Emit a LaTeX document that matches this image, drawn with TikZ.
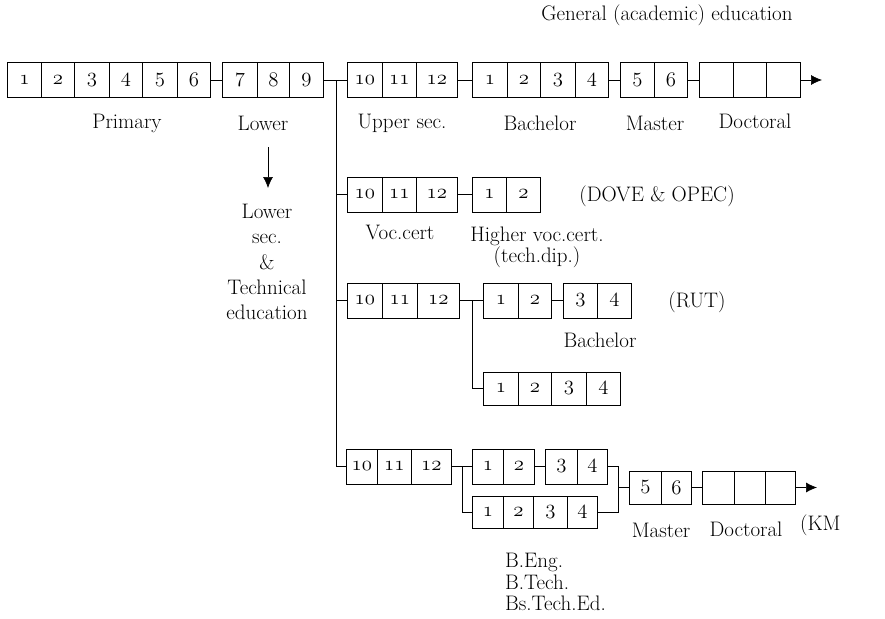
\documentclass[tikz,border=0pt]{standalone}
\usetikzlibrary{arrows.meta}
\tikzset{
  cell/.style={draw, line width=0.7pt, inner sep=0pt, font=\fontsize{22}{24}\selectfont},
  lbl/.style={font=\fontsize{21}{25}\selectfont, inner sep=0pt},
  conn/.style={line width=0.7pt},
  arr/.style={conn, -{Latex[length=11pt,width=10pt]}}
}
\newcommand\cellrow[4]{%
  \foreach \xa/\xb/\tx [count=\ci] in {#4}{%
    \node[cell, anchor=west, minimum width={(\xb-\xa)*1pt}, minimum height=#3pt]
      (#1\ci) at (\xa,#2) {$\mathnormal{\tx}$};}}
\begin{document}
\begin{tikzpicture}[x=1pt,y=-1pt]
\useasboundingbox (0,0) rectangle (885,618);
% row 1
\cellrow{P}{80}{35}{7/41/1,41/74/2,74/109/3,109/142/4,142/177/5,177/210/6}
\cellrow{L}{80}{35}{222/257/7,257/289/8,289/323/9}
\cellrow{U}{80}{35}{347/382/10,382/416/11,416/457/12}
\cellrow{B}{80}{35}{472/507/1,507/540/2,540/575/3,575/608/4}
\cellrow{M}{80}{35}{620/654/5,654/687/6}
\cellrow{D}{80}{35}{699/733/{},733/766/{},766/800/{}}
\coordinate (J1) at (336,80);
\coordinate (Dend) at (822,80);
\draw[conn] (P6.east) -- (L1.west);
\draw[conn] (L3.east) -- (U1.west);
\draw[conn] (U3.east) -- (B1.west);
\draw[conn] (B4.east) -- (M1.west);
\draw[conn] (M2.east) -- (D1.west);
\draw[arr] (D3.east) -- (Dend);
% labels row 1
\node[lbl] (title) at (667,15) {General (academic) education};
\node[lbl] (lprim) at (127,123) {Primary};
\node[lbl] (llow) at (263,123) {Lower};
\node[lbl] (lup) at (402,123) {Upper sec.};
\node[lbl] (lbach) at (540,123) {Bachelor};
\node[lbl] (lmas) at (655,123) {Master};
\node[lbl] (ldoc) at (755,121) {Doctoral};
% down arrow and lower sec text
\coordinate (a0) at (268,147);
\coordinate (a1) at (268,188);
\draw[arr] (a0) -- (a1);
\node[lbl, align=center, font=\fontsize{21}{25.2}\selectfont] (lowtxt) at (267,262) {Lower\\sec.\\\&\\Technical\\education};
% row 2
\cellrow{V}{194.5}{35}{347/382/10,382/416/11,416/457/12}
\cellrow{H}{194.5}{35}{472/506/1,506/540/2}
\draw[conn] (V1.west -| J1) -- (V1.west);
\draw[conn] (V3.east) -- (H1.west);
\node[lbl] (dove) at (657,196) {(DOVE \& OPEC)};
\node[lbl] (voc) at (400,232) {Voc.cert};
\node[lbl, align=center, font=\fontsize{21}{20}\selectfont] (hvoc) at (537,247) {Higher voc.cert.\\(tech.dip.)};
% row 3
\cellrow{R}{300.5}{35}{347/382/10,382/417/11,417/459/12}
\cellrow{RA}{300.5}{35}{483/518/1,518/551/2}
\cellrow{RB}{300.5}{35}{563/597/3,597/631/4}
\cellrow{RC}{388.5}{33}{483/518/1,518/551/2,551/586/3,586/620/4}
\coordinate (J3) at (472,300.5);
\draw[conn] (R1.west -| J1) -- (R1.west);
\draw[conn] (R3.east) -- (RA1.west);
\draw[conn] (RA2.east) -- (RB1.west);
\draw[conn] (J3) |- (RC1.west);
\node[lbl] (rut) at (697,302) {(RUT)};
\node[lbl] (rbach) at (600,340) {Bachelor};
% row 4
\cellrow{K}{466.5}{35}{346/377/10,377/411/11,411/451/12}
\cellrow{KA}{466.5}{35}{472/503/1,503/534/2}
\cellrow{KB}{466.5}{35}{545/577/3,577/607/4}
\cellrow{KC}{512}{32}{472/503/1,503/533/2,533/567/3,567/597/4}
\cellrow{KM}{487.5}{33}{629/661/5,661/691/6}
\cellrow{KD}{487.5}{33}{702/734/{},734/765/{},765/795/{}}
\coordinate (J4) at (462,466.5);
\coordinate (J5) at (618,487.5);
\coordinate (KDend) at (817,487.5);
\draw[conn] (J1) |- (K1.west);
\draw[conn] (K3.east) -- (KA1.west);
\draw[conn] (KA2.east) -- (KB1.west);
\draw[conn] (J4) |- (KC1.west);
\draw[conn] (KB2.east) -| (J5) |- (KC4.east);
\draw[conn] (J5) -- (KM1.west);
\draw[conn] (KM2.east) -- (KD1.west);
\draw[arr] (KD3.east) -- (KDend);
\node[lbl] (kmas) at (661,530) {Master};
\node[lbl] (kdoc) at (746,529) {Doctoral};
\node[lbl, anchor=west] (km) at (800,525) {(KM};
\node[lbl, anchor=west, align=left, font=\fontsize{21}{21.5}\selectfont] (beng) at (505,582) {B.Eng.\\B.Tech.\\Bs.Tech.Ed.};
\end{tikzpicture}
\end{document}
